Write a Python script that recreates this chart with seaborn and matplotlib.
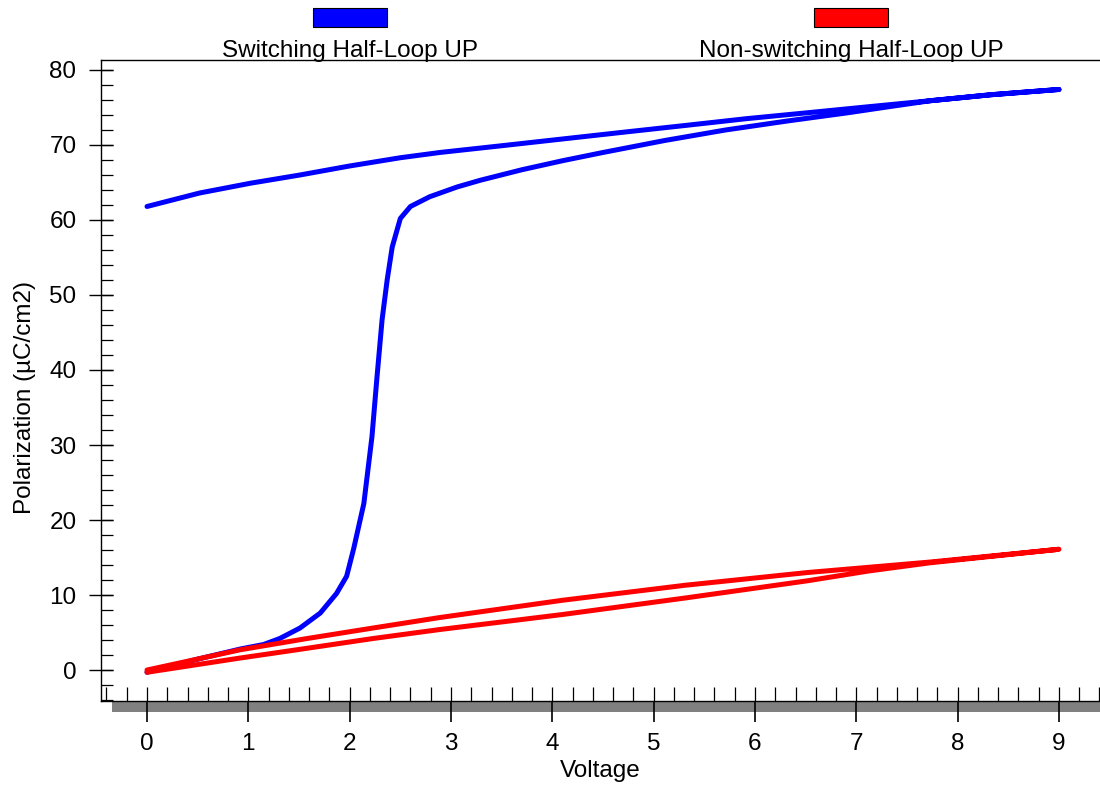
import pandas as pd
import seaborn as sns
import matplotlib.pyplot as plt
from matplotlib.patches import Rectangle
from matplotlib.ticker import MultipleLocator

# switching half-loop: rising branch 0 -> 9 V, then return branch 9 -> 0 V
sw_up_v = [0, 0.5, 0.92, 1.15, 1.31, 1.51, 1.71, 1.87, 1.97, 2.04, 2.14, 2.22, 2.27, 2.32,
           2.37, 2.42, 2.50, 2.60, 2.79, 3.06, 3.29, 3.70, 4.10, 4.50, 5.11, 5.71, 6.32,
           6.92, 7.32, 7.73, 8.33, 9.0]
sw_up_p = [-0.3, 1.45, 2.8, 3.4, 4.2, 5.6, 7.6, 10.2, 12.5, 16.2, 22.2, 31.1, 39.1, 46.7,
           52.0, 56.4, 60.2, 61.8, 63.1, 64.4, 65.3, 66.7, 67.9, 69.0, 70.6, 72.0, 73.2,
           74.3, 75.1, 75.9, 76.7, 77.4]
sw_dn_v = [9.0, 8.33, 7.73, 7.12, 6.52, 5.91, 5.31, 4.70, 4.10, 3.50, 2.89, 2.50, 2.00,
           1.51, 1.02, 0.52, 0]
sw_dn_p = [77.4, 76.7, 75.9, 75.1, 74.3, 73.5, 72.6, 71.7, 70.8, 69.9, 69.0, 68.3, 67.2,
           66.0, 64.9, 63.6, 61.8]

# non-switching half-loop
ns_up_v = [0, 0.92, 1.58, 2.23, 2.89, 4.10, 5.31, 6.52, 7.12, 7.73, 9.0]
ns_up_p = [-0.3, 1.6, 2.9, 4.2, 5.4, 7.4, 9.6, 11.9, 13.2, 14.3, 16.1]
ns_dn_v = [9.0, 7.73, 6.52, 5.31, 4.10, 2.89, 2.23, 1.58, 0.92, 0]
ns_dn_p = [16.1, 14.4, 13.0, 11.3, 9.3, 7.0, 5.6, 4.2, 2.7, 0.0]

series_names = ["Switching Half-Loop UP", "Non-switching Half-Loop UP"]
series_colors = ["#0000ff", "#ff0000"]

df = pd.concat([
    pd.DataFrame({"voltage": sw_up_v + sw_dn_v, "polarization": sw_up_p + sw_dn_p,
                  "series": series_names[0]}),
    pd.DataFrame({"voltage": ns_up_v + ns_dn_v, "polarization": ns_up_p + ns_dn_p,
                  "series": series_names[1]}),
], ignore_index=True)

sns.set_style("white")
plt.rcParams['font.family'] = ['Liberation Sans', 'DejaVu Sans']
plt.rcParams['text.color'] = 'black'
plt.rcParams['axes.labelcolor'] = 'black'
plt.rcParams['xtick.color'] = 'black'
plt.rcParams['ytick.color'] = 'black'

FS = 17.5
W, H = 1100, 785
fig = plt.figure(figsize=(11, 7.85), dpi=100)
ax = fig.add_axes([101 / W, 1 - 701 / H, 1 - 101 / W, (701 - 60) / H])

sns.lineplot(data=df, x="voltage", y="polarization", hue="series", hue_order=series_names,
             palette=series_colors, sort=False, estimator=None, linewidth=3.6,
             legend=False, ax=ax, solid_capstyle="round", solid_joinstyle="round")

ax.set_xlim(-0.454, 9.405)
ax.set_ylim(-4.13, 81.33)

for s in ["left", "top", "bottom"]:
    ax.spines[s].set_visible(True)
    ax.spines[s].set_color("black")
    ax.spines[s].set_linewidth(1.0)
ax.spines["right"].set_visible(False)

ax.xaxis.set_major_locator(MultipleLocator(1))
ax.xaxis.set_minor_locator(MultipleLocator(0.2))
ax.yaxis.set_major_locator(MultipleLocator(10))
ax.yaxis.set_minor_locator(MultipleLocator(2))
ax.xaxis.remove_overlapping_locs = False
ax.yaxis.remove_overlapping_locs = False

ax.tick_params(axis="x", which="major", direction="out", length=15, width=1.2,
               pad=8, labelsize=FS, color="black", labelcolor="black", bottom=True)
ax.tick_params(axis="x", which="minor", direction="in", length=10, width=0.9,
               color="black", bottom=True)
ax.tick_params(axis="y", which="major", direction="inout", length=17.3, width=1.0,
               pad=9, labelsize=FS, color="black", labelcolor="black", left=True)
ax.tick_params(axis="y", which="minor", direction="in", length=8.6, width=0.9,
               color="black", left=True)

ax.set_xlabel("Voltage", fontsize=FS, va="center", color="black")
ax.xaxis.set_label_coords(0.5, -0.109)
ax.set_ylabel("Polarization (\u00b5C/cm2)", fontsize=FS, va="center", color="black")
ax.yaxis.set_label_coords(-0.076, 0.473)

# grey shadow bar under the x axis
fig.add_artist(Rectangle((112 / W, 1 - 712 / H), 1 - 112 / W, 11 / H,
                         transform=fig.transFigure, facecolor="#808080",
                         edgecolor="none", zorder=-1))

# legend boxes above the plot
for name, col, bx, tx in zip(series_names, series_colors, [313, 814], [350, 851]):
    fig.add_artist(Rectangle((bx / W, 1 - 27 / H), 74 / W, 19 / H,
                             transform=fig.transFigure, facecolor=col,
                             edgecolor="black", linewidth=0.8))
    fig.text(tx / W, 1 - 57 / H, name, ha="center", va="baseline", fontsize=FS,
             color="black")

fig.savefig("out.png", dpi=100)
